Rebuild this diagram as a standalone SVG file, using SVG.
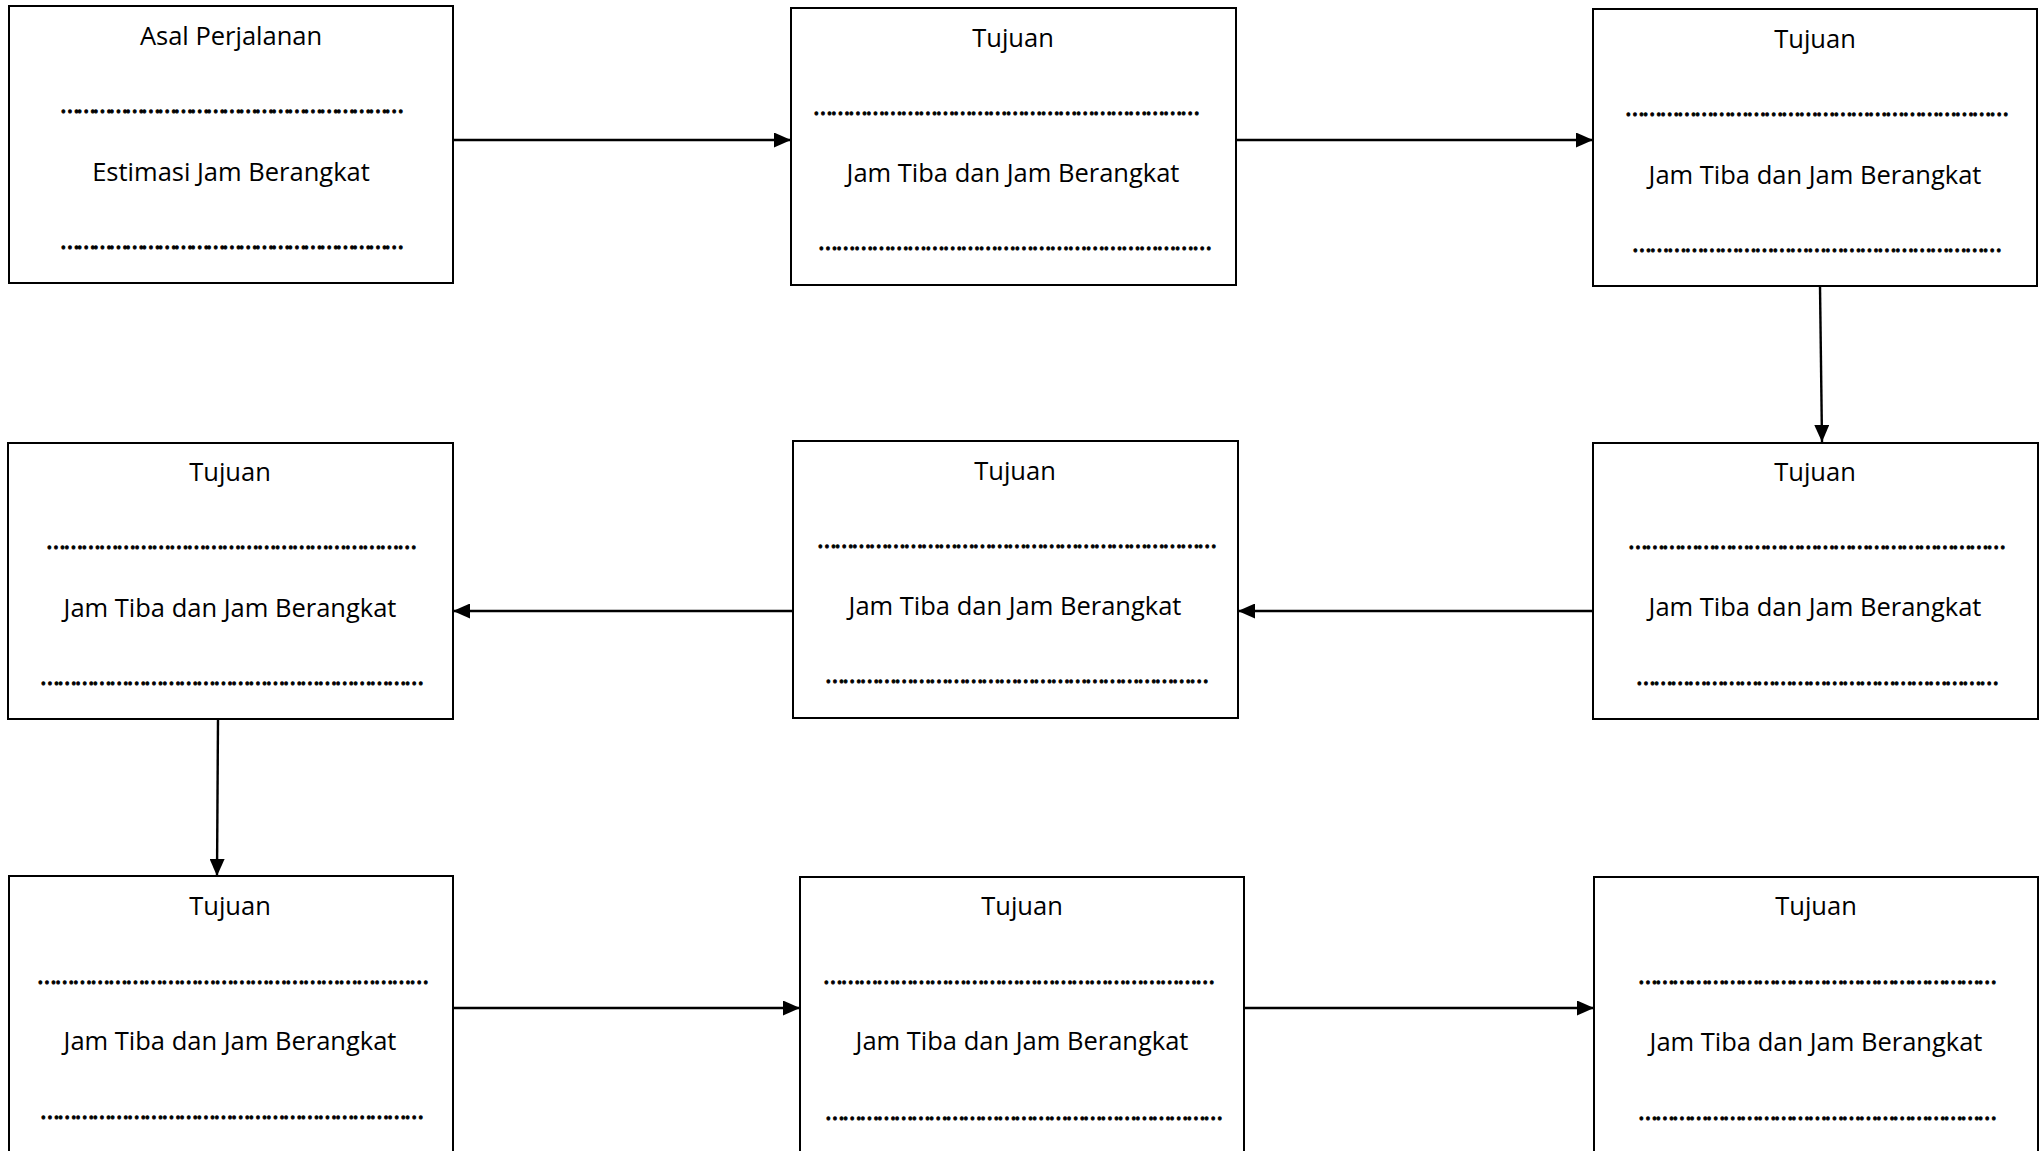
<svg xmlns="http://www.w3.org/2000/svg" width="2040" height="1151" viewBox="0 0 2040 1151">
<style>
.box{fill:#fff;stroke:#000;stroke-width:2}
.t{font-family:"Open Sans","Liberation Sans",sans-serif;font-size:25.5px;fill:#000;text-anchor:middle}
.d{font-family:"Open Sans","Liberation Sans",sans-serif;font-size:25.5px;fill:#000;stroke:#000;stroke-width:0.9}
.c{stroke:#000;stroke-width:2.4;fill:none;marker-end:url(#ah)}
</style>
<defs>
<marker id="ah" markerUnits="userSpaceOnUse" markerWidth="17" markerHeight="15" refX="17" refY="7.5" orient="auto">
<path d="M0,0 L17,7.5 L0,15 Z" fill="#000"/>
</marker>
</defs>
<rect width="2040" height="1151" fill="#fff"/>
<g id="connectors">
<line class="c" x1="453" y1="140" x2="791" y2="140"/>
<line class="c" x1="1236" y1="140" x2="1593" y2="140"/>
<line class="c" x1="1820" y1="286" x2="1822" y2="442"/>
<line class="c" x1="1593" y1="611" x2="1238" y2="611"/>
<line class="c" x1="793" y1="611" x2="453" y2="611"/>
<line class="c" x1="218" y1="719" x2="217" y2="876"/>
<line class="c" x1="453" y1="1008" x2="800" y2="1008"/>
<line class="c" x1="1244" y1="1008" x2="1594" y2="1008"/>
</g>
<g id="node1">
<rect class="box" x="9" y="6" width="444" height="277"/>
<text class="t" x="231" y="45">Asal Perjalanan</text>
<text class="d" x="60" y="113" textLength="344" lengthAdjust="spacing">………………………………………………………</text>
<text class="t" x="231" y="181">Estimasi Jam Berangkat</text>
<text class="d" x="60" y="249" textLength="344" lengthAdjust="spacing">………………………………………………………</text>
</g>
<g id="node2">
<rect class="box" x="791" y="8" width="445" height="277"/>
<text class="t" x="1013" y="47">Tujuan</text>
<text class="d" x="813" y="115" textLength="387" lengthAdjust="spacing">…………………………………………………………</text>
<text class="t" x="1013" y="182">Jam Tiba dan Jam Berangkat</text>
<text class="d" x="818" y="250" textLength="394" lengthAdjust="spacing">…………………………………………………………</text>
</g>
<g id="node3">
<rect class="box" x="1593" y="9" width="444" height="277"/>
<text class="t" x="1815" y="48">Tujuan</text>
<text class="d" x="1625" y="116" textLength="384" lengthAdjust="spacing">…………………………………………………………</text>
<text class="t" x="1815" y="184">Jam Tiba dan Jam Berangkat</text>
<text class="d" x="1632" y="252" textLength="370" lengthAdjust="spacing">………………………………………………………</text>
</g>
<g id="node4">
<rect class="box" x="1593" y="443" width="445" height="276"/>
<text class="t" x="1815" y="481">Tujuan</text>
<text class="d" x="1628" y="548.5" textLength="378" lengthAdjust="spacing">…………………………………………………………</text>
<text class="t" x="1815" y="616">Jam Tiba dan Jam Berangkat</text>
<text class="d" x="1636" y="685" textLength="363" lengthAdjust="spacing">………………………………………………………</text>
</g>
<g id="node5">
<rect class="box" x="793" y="441" width="445" height="277"/>
<text class="t" x="1015" y="480">Tujuan</text>
<text class="d" x="817" y="548" textLength="400" lengthAdjust="spacing">……………………………………………………………</text>
<text class="t" x="1015" y="615">Jam Tiba dan Jam Berangkat</text>
<text class="d" x="825" y="682.5" textLength="384" lengthAdjust="spacing">…………………………………………………………</text>
</g>
<g id="node6">
<rect class="box" x="8" y="443" width="445" height="276"/>
<text class="t" x="230" y="481">Tujuan</text>
<text class="d" x="46" y="548.5" textLength="371" lengthAdjust="spacing">………………………………………………………</text>
<text class="t" x="230" y="617">Jam Tiba dan Jam Berangkat</text>
<text class="d" x="40" y="685" textLength="384" lengthAdjust="spacing">…………………………………………………………</text>
</g>
<g id="node7">
<rect class="box" x="9" y="876" width="444" height="300"/>
<text class="t" x="230" y="915">Tujuan</text>
<text class="d" x="37" y="983.5" textLength="392" lengthAdjust="spacing">…………………………………………………………</text>
<text class="t" x="230" y="1050">Jam Tiba dan Jam Berangkat</text>
<text class="d" x="40" y="1119" textLength="384" lengthAdjust="spacing">…………………………………………………………</text>
</g>
<g id="node8">
<rect class="box" x="800" y="877" width="444" height="300"/>
<text class="t" x="1022" y="915">Tujuan</text>
<text class="d" x="823" y="983.5" textLength="392" lengthAdjust="spacing">…………………………………………………………</text>
<text class="t" x="1022" y="1050">Jam Tiba dan Jam Berangkat</text>
<text class="d" x="825" y="1119.5" textLength="398" lengthAdjust="spacing">……………………………………………………………</text>
</g>
<g id="node9">
<rect class="box" x="1594" y="877" width="444" height="300"/>
<text class="t" x="1816" y="915">Tujuan</text>
<text class="d" x="1638" y="983.5" textLength="359" lengthAdjust="spacing">………………………………………………………</text>
<text class="t" x="1816" y="1051">Jam Tiba dan Jam Berangkat</text>
<text class="d" x="1638" y="1119.5" textLength="359" lengthAdjust="spacing">………………………………………………………</text>
</g>
</svg>
